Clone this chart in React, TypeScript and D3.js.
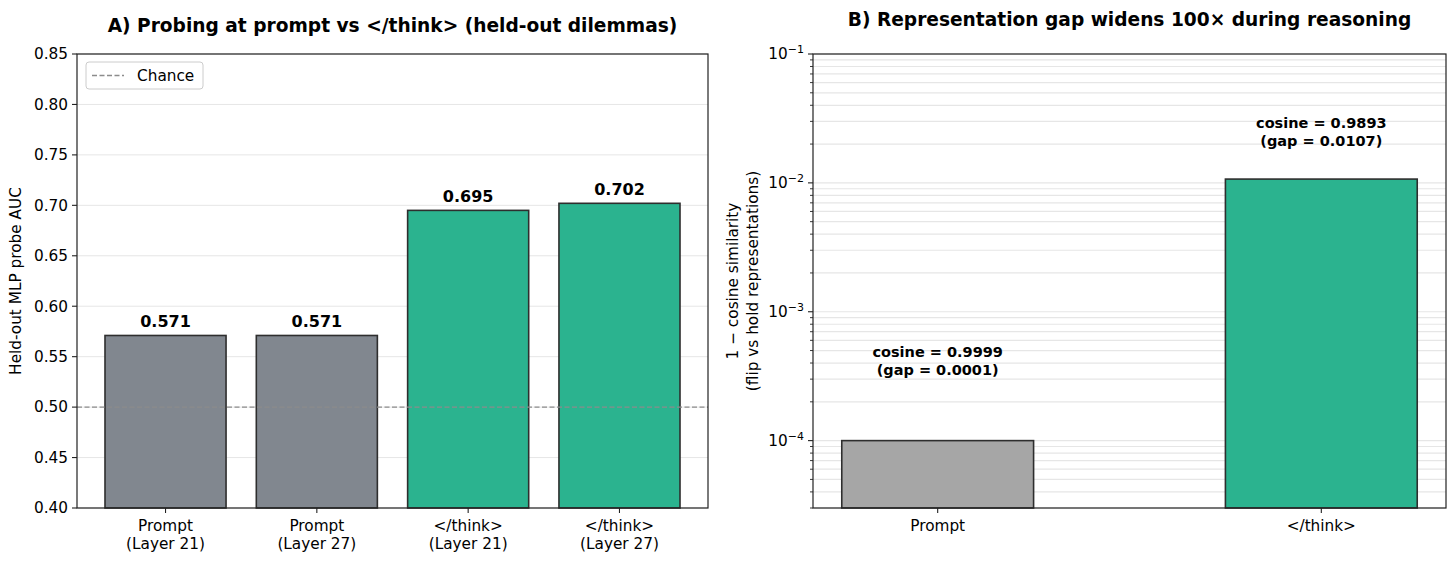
import React from "react";
import * as d3 from "d3";

// ---------- data ----------
const categoriesA: string[][] = [
  ["Prompt", "(Layer 21)"],
  ["Prompt", "(Layer 27)"],
  ["</think>", "(Layer 21)"],
  ["</think>", "(Layer 27)"],
];
const aucValues = [0.571, 0.571, 0.695, 0.702];
const groupA = ["prompt", "prompt", "think", "think"];
const yTicksA = [0.4, 0.45, 0.5, 0.55, 0.6, 0.65, 0.7, 0.75, 0.8, 0.85];
const chanceLevel = 0.5;

const categoriesB = ["Prompt", "</think>"];
const cosineValues = ["0.9999", "0.9893"];
const gapValues = [0.0001, 0.0107];
const gapLabels = ["0.0001", "0.0107"];
const annotationYB = [3e-4, 1.8e-2];
const yTicksB = [1e-4, 1e-3, 1e-2, 1e-1];
const tickExpB = ["−4", "−3", "−2", "−1"];

const titleA = "A) Probing at prompt vs </think> (held-out dilemmas)";
const titleB = "B) Representation gap widens 100× during reasoning";

// ---------- style ----------
const FONT = "DejaVu Sans";
const W = 1456;
const H = 562;
const TOP = 54;
const BOTTOM = 508;
const A_LEFT = 77;
const A_RIGHT = 708;
const B_LEFT = 813;
const B_RIGHT = 1446;
const GRAY_A = "#81878f";
const GRAY_B = "#a6a6a6";
const GREEN = "#2bb38f";
const EDGE = "#2e2e2e";
const SPINE = "#222";
const GRID = "#e6e6e6";
const TICK_FS = 15.3;
const TITLE_FS = 18.6;

export default function App() {
  const xA = d3
    .scaleBand<number>()
    .domain(d3.range(aucValues.length))
    .range([A_LEFT, A_RIGHT])
    .paddingInner(0.2)
    .paddingOuter(0.185);
  const yA = d3.scaleLinear().domain([0.4, 0.85]).range([BOTTOM, TOP]);

  const xB = d3
    .scaleBand<number>()
    .domain(d3.range(gapValues.length))
    .range([B_LEFT, B_RIGHT])
    .paddingInner(0.5)
    .paddingOuter(0.075);
  const yB = d3.scaleLog().domain([3e-5, 0.1]).range([BOTTOM, TOP]);

  const minorB: number[] = [];
  for (let e = -5; e <= -2; e++) {
    for (let m = 2; m <= 9; m++) {
      const v = m * Math.pow(10, e);
      if (v >= 3e-5 && v <= 0.1) minorB.push(v);
    }
  }

  return (
    <div style={{ position: "absolute", left: 0, top: 0 }}>
      <svg width={W} height={H} style={{ display: "block", background: "#fff" }} fontFamily={FONT}>
        {/* ================= Panel A ================= */}
        <text x={(A_LEFT + A_RIGHT) / 2} y={32} textAnchor="middle" fontSize={TITLE_FS} fontWeight="bold" fill="#000">
          {titleA}
        </text>
        {/* grid */}
        {yTicksA.map((t) => (
          <line key={"ga" + t} x1={A_LEFT} x2={A_RIGHT} y1={yA(t)} y2={yA(t)} stroke={GRID} strokeWidth={1} />
        ))}
        {/* bars */}
        {aucValues.map((v, i) => (
          <rect
            key={"ba" + i}
            x={xA(i)!}
            y={yA(v)}
            width={xA.bandwidth()}
            height={yA(0.4) - yA(v)}
            fill={groupA[i] === "prompt" ? GRAY_A : GREEN}
            stroke={EDGE}
            strokeWidth={1.6}
          />
        ))}
        {/* value labels */}
        {aucValues.map((v, i) => (
          <text
            key={"la" + i}
            x={xA(i)! + xA.bandwidth() / 2}
            y={yA(v + 0.008)}
            textAnchor="middle"
            fontSize={16}
            fontWeight="bold"
            fill="#000"
          >
            {v.toFixed(3)}
          </text>
        ))}
        {/* chance line */}
        <line
          x1={A_LEFT}
          x2={A_RIGHT}
          y1={yA(chanceLevel)}
          y2={yA(chanceLevel)}
          stroke="#8c8c8c"
          strokeWidth={1.3}
          strokeDasharray="5,2.5"
        />
        {/* spines */}
        <rect x={A_LEFT} y={TOP} width={A_RIGHT - A_LEFT} height={BOTTOM - TOP} fill="none" stroke={SPINE} strokeWidth={1.2} />
        {/* y ticks */}
        {yTicksA.map((t) => (
          <g key={"ta" + t}>
            <line x1={A_LEFT - 5} x2={A_LEFT} y1={yA(t)} y2={yA(t)} stroke={SPINE} strokeWidth={1.1} />
            <text x={A_LEFT - 9} y={yA(t)} dy="0.35em" textAnchor="end" fontSize={TICK_FS} fill="#000">
              {t.toFixed(2)}
            </text>
          </g>
        ))}
        {/* x ticks */}
        {categoriesA.map((lines, i) => {
          const cx = xA(i)! + xA.bandwidth() / 2;
          return (
            <g key={"xa" + i}>
              <line x1={cx} x2={cx} y1={BOTTOM} y2={BOTTOM + 5} stroke={SPINE} strokeWidth={1.1} />
              {lines.map((ln, j) => (
                <text key={j} x={cx} y={BOTTOM + 23 + j * 18} textAnchor="middle" fontSize={TICK_FS} fill="#000">
                  {ln}
                </text>
              ))}
            </g>
          );
        })}
        {/* y label */}
        <text
          transform={`translate(20.5,${(TOP + BOTTOM) / 2}) rotate(-90)`}
          textAnchor="middle"
          fontSize={TICK_FS}
          fill="#000"
        >
          Held-out MLP probe AUC
        </text>
        {/* legend */}
        <rect x={86} y={62} width={117} height={27} rx={3} fill="#fff" fillOpacity={0.8} stroke="#cccccc" strokeWidth={1} />
        <line x1={92} x2={124} y1={75.5} y2={75.5} stroke="#8c8c8c" strokeWidth={1.3} strokeDasharray="5,2.5" />
        <text x={137} y={75.5} dy="0.35em" fontSize={TICK_FS} fill="#000">
          Chance
        </text>

        {/* ================= Panel B ================= */}
        <text x={(B_LEFT + B_RIGHT) / 2} y={26} textAnchor="middle" fontSize={TITLE_FS} fontWeight="bold" fill="#000">
          {titleB}
        </text>
        {/* grid minor + major */}
        {minorB.map((t, k) => (
          <line key={"gbm" + k} x1={B_LEFT} x2={B_RIGHT} y1={yB(t)} y2={yB(t)} stroke={GRID} strokeWidth={1.2} />
        ))}
        {yTicksB.map((t) => (
          <line key={"gb" + t} x1={B_LEFT} x2={B_RIGHT} y1={yB(t)} y2={yB(t)} stroke={GRID} strokeWidth={1.2} />
        ))}
        {/* bars */}
        {gapValues.map((v, i) => (
          <rect
            key={"bb" + i}
            x={xB(i)!}
            y={yB(v)}
            width={xB.bandwidth()}
            height={BOTTOM - yB(v)}
            fill={i === 0 ? GRAY_B : GREEN}
            stroke={EDGE}
            strokeWidth={1.6}
          />
        ))}
        {/* annotations */}
        {gapValues.map((v, i) => {
          const cx = xB(i)! + xB.bandwidth() / 2;
          const yb = yB(annotationYB[i]);
          return (
            <g key={"an" + i}>
              <text x={cx} y={yb - 22} textAnchor="middle" fontSize={14.5} fontWeight="bold" fill="#000">
                {`cosine = ${cosineValues[i]}`}
              </text>
              <text x={cx} y={yb - 4} textAnchor="middle" fontSize={14.5} fontWeight="bold" fill="#000">
                {`(gap = ${gapLabels[i]})`}
              </text>
            </g>
          );
        })}
        {/* spines */}
        <rect x={B_LEFT} y={TOP} width={B_RIGHT - B_LEFT} height={BOTTOM - TOP} fill="none" stroke={SPINE} strokeWidth={1.2} />
        {/* minor ticks */}
        {minorB.map((t, k) => (
          <line key={"mt" + k} x1={B_LEFT - 3} x2={B_LEFT} y1={yB(t)} y2={yB(t)} stroke={SPINE} strokeWidth={0.9} />
        ))}
        {/* major ticks */}
        {yTicksB.map((t, k) => (
          <g key={"tb" + t}>
            <line x1={B_LEFT - 5} x2={B_LEFT} y1={yB(t)} y2={yB(t)} stroke={SPINE} strokeWidth={1.1} />
            <text x={B_LEFT - 9} y={yB(t)} dy="0.35em" textAnchor="end" fontSize={TICK_FS} fill="#000">
              10
              <tspan dy="-0.55em" fontSize={11}>
                {tickExpB[k]}
              </tspan>
            </text>
          </g>
        ))}
        {/* x ticks */}
        {categoriesB.map((c, i) => {
          const cx = xB(i)! + xB.bandwidth() / 2;
          return (
            <g key={"xb" + i}>
              <line x1={cx} x2={cx} y1={BOTTOM} y2={BOTTOM + 5} stroke={SPINE} strokeWidth={1.1} />
              <text x={cx} y={BOTTOM + 23} textAnchor="middle" fontSize={TICK_FS} fill="#000">
                {c}
              </text>
            </g>
          );
        })}
        {/* y label */}
        <text transform={`translate(738,${(TOP + BOTTOM) / 2}) rotate(-90)`} textAnchor="middle" fontSize={TICK_FS} fill="#000">
          1 − cosine similarity
        </text>
        <text transform={`translate(758,${(TOP + BOTTOM) / 2}) rotate(-90)`} textAnchor="middle" fontSize={TICK_FS} fill="#000">
          (flip vs hold representations)
        </text>
      </svg>
    </div>
  );
}
